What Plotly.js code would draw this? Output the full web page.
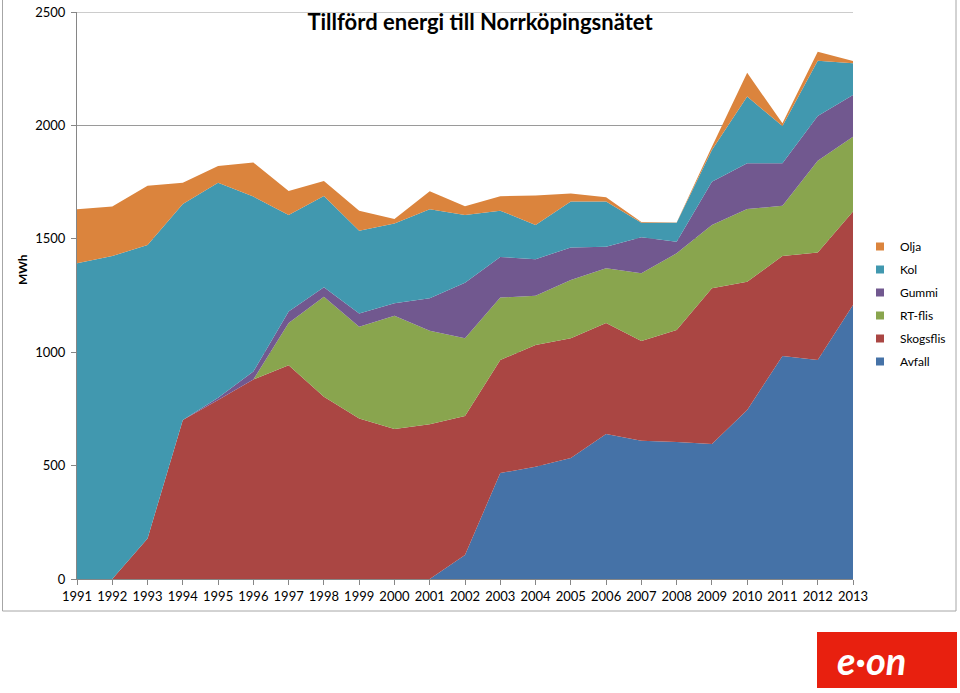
<!DOCTYPE html>
<html>
<head>
<meta charset="utf-8">
<script src="https://cdn.plot.ly/plotly-3.0.1.min.js"></script>
<style>
html,body{margin:0;padding:0;background:#fff;}
#chart{width:960px;height:693px;}
</style>
</head>
<body>
<div id="chart"></div>
<script>
const years = [1991,1992,1993,1994,1995,1996,1997,1998,1999,2000,2001,2002,2003,2004,2005,2006,2007,2008,2009,2010,2011,2012,2013];
const avfall    = [0,0,0,0,0,0,0,0,0,0,0,106,467,495,533,639,610,604,595,745,983,966,1208];
const skogsflis = [0,0,179,701,789,880,943,804,708,661,682,613,499,537,528,490,439,494,687,566,441,474,412];
const rtflis    = [0,0,0,0,0,0,186,441,404,500,413,342,275,217,257,241,299,338,279,320,222,404,330];
const gummi     = [0,0,0,0,10,35,50,41,59,55,143,245,179,161,144,95,159,51,191,202,187,197,184];
const kol       = [1392,1424,1294,952,948,771,426,403,365,351,392,299,204,151,202,199,64,84,140,294,164,244,140];
const olja      = [238,218,261,94,74,150,106,66,88,20,80,38,64,130,36,19,3,1,14,105,12,40,10];
const yTicks = [0,500,1000,1500,2000,2500];

const series = [
  {name:'Avfall',    y:avfall,    color:'#4572A7'},
  {name:'Skogsflis', y:skogsflis, color:'#AA4643'},
  {name:'RT-flis',   y:rtflis,    color:'#89A54E'},
  {name:'Gummi',     y:gummi,     color:'#71588F'},
  {name:'Kol',       y:kol,       color:'#4198AF'},
  {name:'Olja',      y:olja,      color:'#DB843D'}
];

const FONT = 'Lato, "Open Sans", sans-serif';
const traces = [];
series.forEach(s => {
  traces.push({
    type:'scatter', mode:'lines', x:years, y:s.y, name:s.name,
    stackgroup:'one', line:{width:0, color:s.color}, fillcolor:s.color,
    showlegend:false, hoverinfo:'x+y+name'
  });
});
series.slice().reverse().forEach((s,i) => {
  traces.push({
    type:'scatter', mode:'markers', x:[null], y:[null], name:s.name,
    marker:{symbol:'square', size:8, color:s.color},
    showlegend:true, legendgroup:'g'+i, hoverinfo:'skip'
  });
});

const L = 77, R = 853, T = 12, B = 579;
const W = R-L, H = B-T;
const px = x => (x-L)/W;
const py = y => (B-y)/H;

const layout = {
  width:960, height:693,
  margin:{l:L, r:960-R, t:T, b:693-B, pad:0, autoexpand:false},
  paper_bgcolor:'#fff', plot_bgcolor:'#fff',
  font:{family:FONT, size:12, color:'#000'},
  title:{text:'<b>Tillförd energi till Norrköpingsnätet</b>', x:0.5, xref:'container', xanchor:'center',
         y:1-22/693, yref:'container', yanchor:'middle', font:{family:FONT, size:22, color:'#000'}},
  xaxis:{range:[1991,2013], tickvals:years, ticktext:years.map(String), showgrid:false, zeroline:false,
         showline:true, linecolor:'#868686', linewidth:1, ticks:'outside', ticklen:5, tickcolor:'#868686',
         tickfont:{family:FONT, size:13, color:'#000'}, fixedrange:true},
  yaxis:{range:[0,2500], tickvals:yTicks, showgrid:true, gridcolor:'#9A9A9A', gridwidth:1, zeroline:false,
         showline:true, linecolor:'#868686', linewidth:1, ticks:'outside', ticklen:5, tickcolor:'#868686',
         tickfont:{family:FONT, size:13, color:'#000'}, ticklabelstandoff:3, fixedrange:true},
  legend:{x:px(860), y:py(232), xanchor:'left', yanchor:'top', traceorder:'grouped',
          tracegroupgap:4, font:{family:FONT, size:12, color:'#000'}, bgcolor:'rgba(0,0,0,0)', itemwidth:30},
  showlegend:true,
  shapes:[
    {type:'rect', xref:'paper', yref:'paper', x0:px(2.5), x1:px(956), y0:py(611), y1:py(-3),
     line:{color:'#A6A6A6', width:1}, fillcolor:'rgba(0,0,0,0)', layer:'below'},
    {type:'line', xref:'paper', yref:'y', x0:0, x1:1, y0:2500, y1:2500, line:{color:'#9A9A9A', width:1}},
    {type:'rect', xref:'paper', yref:'paper', x0:px(817), x1:px(957), y0:py(688), y1:py(632),
     line:{width:0}, fillcolor:'#E8200F'}
  ],
  annotations:[
    {text:'<b>MWh</b>', xref:'paper', yref:'paper', x:px(22), y:py(270), textangle:-90, showarrow:false,
     xanchor:'center', yanchor:'middle', font:{family:FONT, size:12, color:'#000'}},
    {text:'<b><i>e·on</i></b>', xref:'paper', yref:'paper', x:px(872), y:py(660), showarrow:false,
     xanchor:'center', yanchor:'middle', font:{family:FONT, size:38, color:'#fff'}}
  ]
};

Plotly.newPlot('chart', traces, layout, {displayModeBar:false, staticPlot:true});
</script>
</body>
</html>
